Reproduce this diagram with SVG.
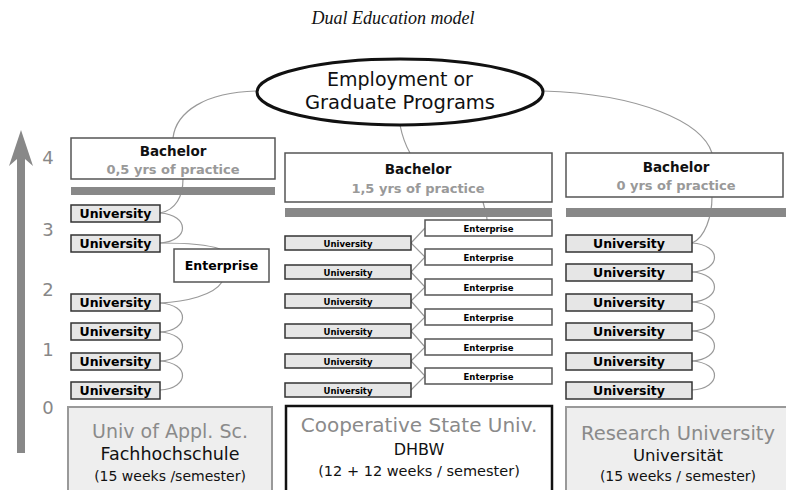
<svg xmlns="http://www.w3.org/2000/svg" width="786" height="490" viewBox="0 0 786 490">
<style>
.t{font-family:"DejaVu Sans","Liberation Sans",sans-serif;text-anchor:middle}
.b{font-weight:bold}
.uni{fill:#e6e6e6;stroke:#333;stroke-width:1.5}
.box{fill:#fff;stroke:#555;stroke-width:1.5}
.bar{fill:#888}
.con{fill:none;stroke:#999;stroke-width:1.2}
.gray{fill:#999}
.ax{fill:#888;font-size:18px}
</style>
<rect width="786" height="490" fill="#fff"/>
<text x="393" y="24" style="font-family:'Liberation Serif',serif;font-style:italic;font-size:18px;text-anchor:middle" fill="#111">Dual Education model</text>

<g id="axis">
<path d="M21,130 L33,166 L25,159 L25,453 L17,453 L17,159 L9,166 Z" fill="#888"/>
<text class="t ax" x="48" y="164">4</text>
<text class="t ax" x="48" y="236">3</text>
<text class="t ax" x="48" y="296">2</text>
<text class="t ax" x="48" y="356">1</text>
<text class="t ax" x="48" y="414">0</text>
</g>

<g id="connectors">
<path class="con" d="M257,91 C205,92 176,112 173,138"/>
<path class="con" d="M400,125 C402,135 406,146 410,153"/>
<path class="con" d="M543,91 C640,94 702,122 712,153"/>
<path class="con" d="M183,179 C183,196 176,210 160,213"/>
<path class="con" d="M160,213 C190,215 190,241 160,243"/>
<path class="con" d="M160,243 C186,243 206,244 220,249"/>
<path class="con" d="M222,282 C214,295 186,302 160,303"/>
<path class="con" d="M160,303 C190,305 190,330 160,332"/>
<path class="con" d="M160,332 C190,334 190,359 160,361"/>
<path class="con" d="M160,361 C190,363 190,388 160,390"/>
<path class="con" d="M483,202 C485,210 487,215 487,220"/>
<polyline class="con" points="425,228 411,243 425,257 411,272 425,287 411,301 425,317 411,331 425,347 411,361 425,376 411,390"/>
<path class="con" d="M712,197 C712,216 705,238 692,243"/>
<path class="con" d="M692,243 C722,245 722,270 692,272"/>
<path class="con" d="M692,272 C722,274 722,300 692,302"/>
<path class="con" d="M692,302 C722,304 722,329 692,331"/>
<path class="con" d="M692,331 C722,333 722,359 692,361"/>
<path class="con" d="M692,361 C722,363 722,388 692,390"/>
</g>

<g id="goal">
<ellipse cx="400" cy="92" rx="143" ry="33" fill="#fff" stroke="#111" stroke-width="3"/>
<text class="t" x="400" y="86" font-size="19" fill="#111">Employment or</text>
<text class="t" x="400" y="109" font-size="19.5" fill="#111">Graduate Programs</text>
</g>

<g id="left-column">
<g id="bachelor-left"><rect class="box" x="71" y="138" width="204" height="41"/>
<text class="t b" x="173" y="156" font-size="13.5" fill="#111">Bachelor</text>
<text class="t b gray" x="173" y="174" font-size="13">0,5 yrs of practice</text></g>
<rect class="bar" x="71" y="187" width="204" height="8"/>
<g id="l-u1"><rect class="uni" x="71" y="205" width="89" height="17"/><text class="t b" x="115.5" y="218" font-size="12.5">University</text></g>
<g id="l-u2"><rect class="uni" x="71" y="235" width="89" height="17"/><text class="t b" x="115.5" y="248" font-size="12.5">University</text></g>
<g id="l-ent"><rect class="box" x="174" y="249" width="95" height="33"/><text class="t b" x="221.5" y="270" font-size="12.5">Enterprise</text></g>
<g id="l-u3"><rect class="uni" x="71" y="294" width="89" height="17"/><text class="t b" x="115.5" y="307" font-size="12.5">University</text></g>
<g id="l-u4"><rect class="uni" x="71" y="323" width="89" height="17"/><text class="t b" x="115.5" y="336" font-size="12.5">University</text></g>
<g id="l-u5"><rect class="uni" x="71" y="353" width="89" height="17"/><text class="t b" x="115.5" y="366" font-size="12.5">University</text></g>
<g id="l-u6"><rect class="uni" x="71" y="382" width="89" height="17"/><text class="t b" x="115.5" y="395" font-size="12.5">University</text></g>
<g id="fh"><rect x="68" y="407" width="204" height="90" fill="#eee" stroke="#999" stroke-width="2"/>
<text class="t" x="170" y="438" font-size="19" fill="#8a8a8a">Univ of Appl. Sc.</text>
<text class="t" x="170" y="460" font-size="17.5" fill="#111">Fachhochschule</text>
<text class="t" x="170" y="481" font-size="14" fill="#111">(15 weeks /semester)</text></g>
</g>

<g id="middle-column">
<g id="bachelor-mid"><rect class="box" x="285" y="153" width="267" height="49"/>
<text class="t b" x="418" y="174" font-size="13.5" fill="#111">Bachelor</text>
<text class="t b gray" x="418" y="193" font-size="13">1,5 yrs of practice</text></g>
<rect class="bar" x="285" y="208" width="267" height="9"/>
<g id="m-e1"><rect class="box" x="425" y="220" width="127" height="16"/><text class="t b" x="488.5" y="231.5" font-size="8.5">Enterprise</text></g>
<g id="m-e2"><rect class="box" x="425" y="249" width="127" height="16"/><text class="t b" x="488.5" y="260.5" font-size="8.5">Enterprise</text></g>
<g id="m-e3"><rect class="box" x="425" y="279" width="127" height="16"/><text class="t b" x="488.5" y="290.5" font-size="8.5">Enterprise</text></g>
<g id="m-e4"><rect class="box" x="425" y="309" width="127" height="16"/><text class="t b" x="488.5" y="320.5" font-size="8.5">Enterprise</text></g>
<g id="m-e5"><rect class="box" x="425" y="339" width="127" height="16"/><text class="t b" x="488.5" y="350.5" font-size="8.5">Enterprise</text></g>
<g id="m-e6"><rect class="box" x="425" y="368" width="127" height="16"/><text class="t b" x="488.5" y="379.5" font-size="8.5">Enterprise</text></g>
<g id="m-u1"><rect class="uni" x="285" y="236" width="126" height="14"/><text class="t b" x="348" y="246.5" font-size="8.5">University</text></g>
<g id="m-u2"><rect class="uni" x="285" y="265" width="126" height="14"/><text class="t b" x="348" y="275.5" font-size="8.5">University</text></g>
<g id="m-u3"><rect class="uni" x="285" y="294" width="126" height="14"/><text class="t b" x="348" y="304.5" font-size="8.5">University</text></g>
<g id="m-u4"><rect class="uni" x="285" y="324" width="126" height="14"/><text class="t b" x="348" y="334.5" font-size="8.5">University</text></g>
<g id="m-u5"><rect class="uni" x="285" y="354" width="126" height="14"/><text class="t b" x="348" y="364.5" font-size="8.5">University</text></g>
<g id="m-u6"><rect class="uni" x="285" y="383" width="126" height="14"/><text class="t b" x="348" y="393.5" font-size="8.5">University</text></g>
<g id="dhbw"><rect x="286" y="406" width="266" height="92" fill="#fff" stroke="#111" stroke-width="2.5"/>
<text class="t" x="419" y="432" font-size="20" fill="#8a8a8a">Cooperative State Univ.</text>
<text class="t" x="419" y="455" font-size="16" fill="#111">DHBW</text>
<text class="t" x="419" y="476" font-size="14.5" fill="#111">(12 + 12 weeks / semester)</text></g>
</g>

<g id="right-column">
<g id="bachelor-right"><rect class="box" x="566" y="153" width="217" height="44"/>
<text class="t b" x="676" y="172" font-size="13.5" fill="#111">Bachelor</text>
<text class="t b gray" x="676" y="190" font-size="13">0 yrs of practice</text></g>
<rect class="bar" x="566" y="208" width="220" height="9"/>
<g id="r-u1"><rect class="uni" x="566" y="235" width="126" height="17"/><text class="t b" x="629" y="248" font-size="12.5">University</text></g>
<g id="r-u2"><rect class="uni" x="566" y="264" width="126" height="17"/><text class="t b" x="629" y="277" font-size="12.5">University</text></g>
<g id="r-u3"><rect class="uni" x="566" y="294" width="126" height="17"/><text class="t b" x="629" y="307" font-size="12.5">University</text></g>
<g id="r-u4"><rect class="uni" x="566" y="323" width="126" height="17"/><text class="t b" x="629" y="336" font-size="12.5">University</text></g>
<g id="r-u5"><rect class="uni" x="566" y="353" width="126" height="17"/><text class="t b" x="629" y="366" font-size="12.5">University</text></g>
<g id="r-u6"><rect class="uni" x="566" y="382" width="126" height="17"/><text class="t b" x="629" y="395" font-size="12.5">University</text></g>
<g id="uni"><rect x="566" y="407" width="224" height="90" fill="#eee" stroke="#999" stroke-width="2"/>
<text class="t" x="678" y="440" font-size="19.5" fill="#8a8a8a">Research University</text>
<text class="t" x="678" y="461" font-size="16.5" fill="#111">Universität</text>
<text class="t" x="678" y="481" font-size="14" fill="#111">(15 weeks / semester)</text></g>
</g>
</svg>
